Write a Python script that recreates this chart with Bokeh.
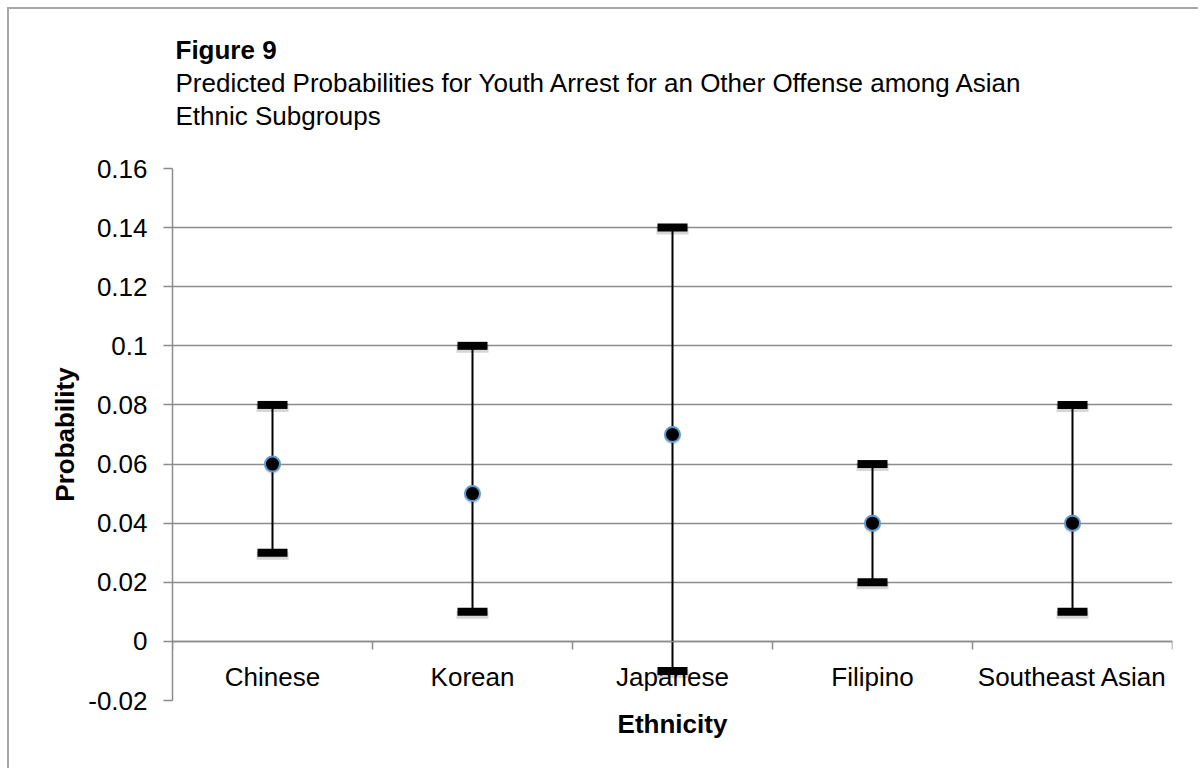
from bokeh.plotting import figure
from bokeh.models import Range1d, FixedTicker, ColumnDataSource, LinearAxis, Title
from bokeh.embed import file_html
from bokeh.resources import INLINE

# ---- data ----
categories = ["Chinese", "Korean", "Japanese", "Filipino", "Southeast Asian"]
estimate = [0.06, 0.05, 0.07, 0.04, 0.04]
lower = [0.03, 0.01, -0.01, 0.02, 0.01]
upper = [0.08, 0.10, 0.14, 0.06, 0.08]
y_ticks = [-0.02, 0, 0.02, 0.04, 0.06, 0.08, 0.1, 0.12, 0.14, 0.16]
y_tick_labels = ["-0.02", "0", "0.02", "0.04", "0.06", "0.08", "0.1", "0.12", "0.14", "0.16"]
title_bold = "Figure 9"
title_lines = ["Predicted Probabilities for Youth Arrest for an Other Offense among Asian",
               "Ethnic Subgroups"]
x_title = "Ethnicity"
y_title = "Probability"

# ---- style ----
FONT = "Liberation Sans"
FS = "26px"
GRID = "#8c8c8c"
BORDER = "#a8a8a8"

Y_MIN, Y_MAX = y_ticks[0], y_ticks[-1]
FRAME_TOP, FRAME_BOTTOM = 168, 700       # window pixels
FRAME_LEFT, FRAME_RIGHT = 172, 1172
CANVAS_X0, CANVAS_Y0 = 9, 9
W, H = 1200 - CANVAS_X0, 770 - CANVAS_Y0
DATA_PER_PX = (Y_MAX - Y_MIN) / (FRAME_BOTTOM - FRAME_TOP)

xs = [i + 0.5 for i in range(len(categories))]
shadow_dy = 3 * DATA_PER_PX
src = ColumnDataSource(dict(x=xs, est=estimate, lo=lower, hi=upper,
                            lo_sh=[v - shadow_dy for v in lower],
                            hi_sh=[v - shadow_dy for v in upper],
                            est_sh=[v - 0.6 * shadow_dy for v in estimate]))

p = figure(width=W, height=H,
           x_range=Range1d(0, len(categories)), y_range=Range1d(Y_MIN, Y_MAX),
           output_backend="svg", toolbar_location=None,
           x_axis_location=None, y_axis_location="left",
           min_border_left=FRAME_LEFT - CANVAS_X0,
           min_border_right=1200 - FRAME_RIGHT,
           min_border_top=FRAME_TOP - CANVAS_Y0,
           min_border_bottom=770 - FRAME_BOTTOM)
p.outline_line_color = None
p.background_fill_color = "white"
p.border_fill_color = "white"
p.styles = {"border-top": f"2px solid {BORDER}", "border-left": f"2px solid {BORDER}",
            "margin-left": "7px", "margin-top": "7px"}

# y axis
ya = p.yaxis[0]
ya.ticker = FixedTicker(ticks=y_ticks)
ya.major_label_overrides = {t: l for t, l in zip(y_ticks, y_tick_labels)}
ya.axis_line_color = GRID
ya.axis_line_width = 1.5
ya.major_tick_line_color = GRID
ya.major_tick_line_width = 1.5
ya.major_tick_out = 9
ya.major_tick_in = 0
ya.minor_tick_line_color = None
ya.major_label_text_font = FONT
ya.major_label_text_font_size = FS
ya.major_label_text_color = "black"
ya.major_label_standoff = 16
ya.axis_label = y_title
ya.axis_label_text_font = FONT
ya.axis_label_text_font_size = FS
ya.axis_label_text_font_style = "bold"
ya.axis_label_text_color = "black"
ya.axis_label_standoff = 5

p.ygrid.ticker = FixedTicker(ticks=y_ticks)
p.ygrid.grid_line_color = GRID
p.ygrid.grid_line_width = 1.5
p.xgrid.grid_line_color = None

# category axis crossing at y = 0
xa = LinearAxis(fixed_location=0,
                ticker=FixedTicker(ticks=xs, minor_ticks=list(range(len(categories) + 1))))
xa.major_label_overrides = {x: c for x, c in zip(xs, categories)}
xa.axis_line_color = GRID
xa.axis_line_width = 1.5
xa.major_tick_line_color = None
xa.major_tick_out = 0
xa.major_tick_in = 0
xa.minor_tick_line_color = GRID
xa.minor_tick_line_width = 1.5
xa.minor_tick_out = 8
xa.minor_tick_in = 0
xa.major_label_text_font = FONT
xa.major_label_text_font_size = FS
xa.major_label_text_color = "black"
xa.major_label_standoff = 13
p.add_layout(xa, "below")

# x axis title below the frame
p.add_layout(Title(text=x_title, align="center", standoff=13, text_font=FONT,
                   text_font_size=FS, text_font_style="bold", text_color="black"), "below")

# error bars with soft shadows
for col in ("lo_sh", "hi_sh"):
    p.rect(x="x", y=col, width=32, height=8, width_units="screen", height_units="screen",
           source=src, fill_color="#000000", fill_alpha=0.16, line_color=None)
p.scatter(x="x", y="est_sh", source=src, size=17, fill_color="#000000", fill_alpha=0.12,
          line_color=None)
p.segment(x0="x", y0="lo", x1="x", y1="hi", source=src, line_color="black", line_width=2)
for col in ("lo", "hi"):
    p.rect(x="x", y=col, width=30, height=8, width_units="screen", height_units="screen",
           source=src, fill_color="black", line_color=None)
p.scatter(x="x", y="est", source=src, size=15, fill_color="black",
          line_color="#5b9bd5", line_width=2)

# titles: the first one added sits closest to the frame.
# The first is a blank (zero-width, white) spacer that leaves a gap above the frame.
p.add_layout(Title(text="\u200b", standoff=5, text_font=FONT, text_font_size=FS,
                   text_color="white"), "above")
for text, bold in [(title_lines[1], False), (title_lines[0], False), (title_bold, True)]:
    p.add_layout(Title(text=text, align="left", offset=3, standoff=1,
                       text_font=FONT, text_font_size=FS, text_color="black",
                       text_font_style="bold" if bold else "normal"), "above")

open("out.html", "w").write(file_html(p, INLINE))
